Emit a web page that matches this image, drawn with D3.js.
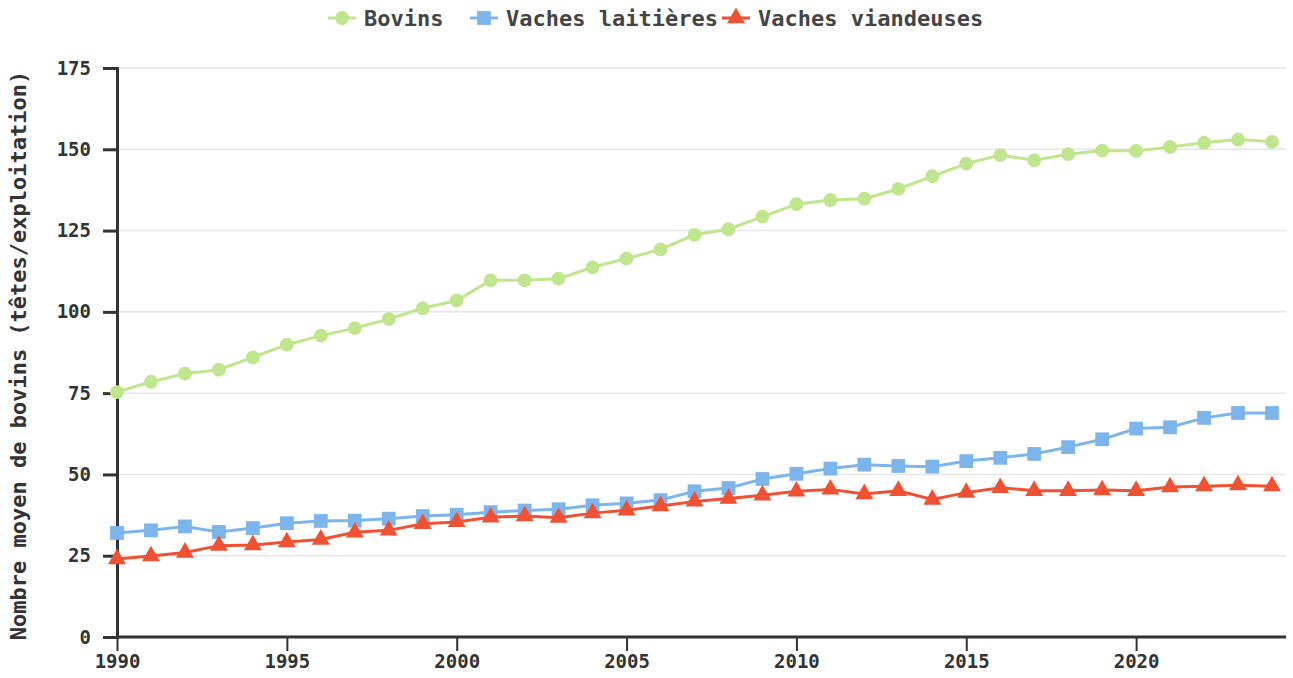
<!DOCTYPE html>
<html>
<head>
<meta charset="utf-8">
<script src="https://cdn.jsdelivr.net/npm/d3@7"></script>
<style>
  body { margin: 0; background: #fff; }
  svg { display: block; font-family: "DejaVu Sans Mono", monospace; font-weight: bold; }
  .grid line { stroke: #e6e6e6; stroke-width: 1.5; }
  .axis path, .axis line { stroke: #333; }
  .axis text { fill: #333; font-family: "DejaVu Sans Mono", monospace; font-weight: bold; }
</style>
</head>
<body>
<div id="chart"></div>
<script>
// data
var years = d3.range(1990, 2025)
var bovins = [75.3, 78.5, 81.0, 82.2, 86.0, 89.9, 92.7, 95.0, 97.8, 101.1, 103.5,
    109.7, 109.7, 110.2, 113.7, 116.4, 119.2, 123.7, 125.4, 129.3, 133.1,
    134.4, 134.8, 137.8, 141.7, 145.6, 148.2, 146.6, 148.5, 149.6, 149.5,
    150.7, 152.0, 153.0, 152.3]
var laitieres = [32.0, 32.8, 34.0, 32.3, 33.5, 35.0, 35.7, 35.8, 36.4, 37.2, 37.6,
    38.4, 38.9, 39.3, 40.5, 41.1, 42.1, 44.8, 45.8, 48.6, 50.2,
    51.8, 53.0, 52.6, 52.4, 54.1, 55.1, 56.3, 58.4, 60.8, 64.1,
    64.5, 67.4, 68.9, 68.9]
var viandeuses = [24.0, 24.9, 26.0, 28.1, 28.3, 29.2, 30.0, 32.2, 32.8, 34.8, 35.4,
    36.8, 37.2, 36.7, 38.1, 39.0, 40.3, 41.7, 42.6, 43.6, 44.8,
    45.4, 44.0, 45.0, 42.3, 44.4, 45.9, 45.0, 45.0, 45.2, 45.0,
    46.1, 46.4, 46.7, 46.4]
var yTicks = [0, 25, 50, 75, 100, 125, 150, 175]
var xTicks = [1990, 1995, 2000, 2005, 2010, 2015, 2020]

var series = [
    {name: 'Bovins', values: bovins, color: '#bfe68c', symbol: d3.symbolCircle, size: 150},
    {name: 'Vaches laitières', values: laitieres, color: '#7cb5ec', symbol: d3.symbolSquare, size: 190},
    {name: 'Vaches viandeuses', values: viandeuses, color: '#f05133', symbol: d3.symbolTriangle, size: 140}
]

var W = 1293, H = 678
var margin = {top: 68, right: 7, bottom: 41, left: 117}
var w = W - margin.left - margin.right
var h = H - margin.top - margin.bottom
var padRight = 14

var svg = d3.select('#chart').append('svg')
    .attr('width', W)
    .attr('height', H)

var g = svg.append('g')
    .attr('transform', 'translate(' + margin.left + ',' + margin.top + ')')

var x = d3.scaleLinear().domain([years[0], years[years.length - 1]]).range([0, w - padRight])
var y = d3.scaleLinear().domain([0, 175]).range([h, 0])

// grid
g.append('g').attr('class', 'grid')
    .selectAll('line').data(yTicks).enter().append('line')
    .attr('x1', 0).attr('x2', w)
    .attr('y1', function(d){return y(d)})
    .attr('y2', function(d){return y(d)})

// axes
var yaxis = g.append('g').attr('class', 'axis')
    .call(d3.axisLeft(y).tickValues(yTicks).tickSize(14).tickPadding(12))
yaxis.select('.domain').attr('stroke-width', 3)
yaxis.selectAll('.tick line').attr('stroke-width', 3)
yaxis.selectAll('text').style('font-size', '19px')

var xaxis = g.append('g').attr('class', 'axis')
    .attr('transform', 'translate(0,' + h + ')')
    .call(d3.axisBottom(x).tickValues(xTicks).tickFormat(d3.format('d')).tickSize(14).tickPadding(4))
xaxis.select('.domain').attr('d', 'M0,0H' + w).attr('stroke-width', 3)
xaxis.selectAll('.tick line').attr('stroke-width', 2)
xaxis.selectAll('text').style('font-size', '19px')

svg.append('text')
    .attr('transform', 'translate(26,' + (margin.top + h / 2 + 3) + ') rotate(-90)')
    .attr('text-anchor', 'middle')
    .style('font-size', '22px')
    .attr('fill', '#333')
    .text('Nombre moyen de bovins (têtes/exploitation)')

// lines + markers
var line = d3.line()
    .x(function(d, i){return x(years[i])})
    .y(function(d){return y(d)})

series.forEach(function(s){
    var sg = g.append('g')
    sg.append('path')
        .datum(s.values)
        .attr('fill', 'none')
        .attr('stroke', s.color)
        .attr('stroke-width', 3)
        .attr('d', line)
    sg.selectAll('path.pt').data(s.values).enter().append('path')
        .attr('class', 'pt')
        .attr('fill', s.color)
        .attr('transform', function(d, i){return 'translate(' + x(years[i]) + ',' + y(d) + ')'})
        .attr('d', d3.symbol().type(s.symbol).size(s.size))
})

// legend (item widths guessed from char count, like the original)
var lx = 328
var legend = svg.append('g').attr('transform', 'translate(0,18)')
series.forEach(function(s){
    var it = legend.append('g').attr('transform', 'translate(' + lx + ',0)')
    it.append('line').attr('x1', 0).attr('x2', 28)
        .attr('stroke', s.color).attr('stroke-width', 3)
    it.append('path').attr('transform', 'translate(14,0)')
        .attr('fill', s.color)
        .attr('d', d3.symbol().type(s.symbol).size(s.size))
    it.append('text').attr('x', 36).attr('dy', '0.35em')
        .style('font-size', '22px')
        .attr('fill', '#444')
        .text(s.name)
    lx += 76 + 11 * s.name.length
})
</script>
</body>
</html>
